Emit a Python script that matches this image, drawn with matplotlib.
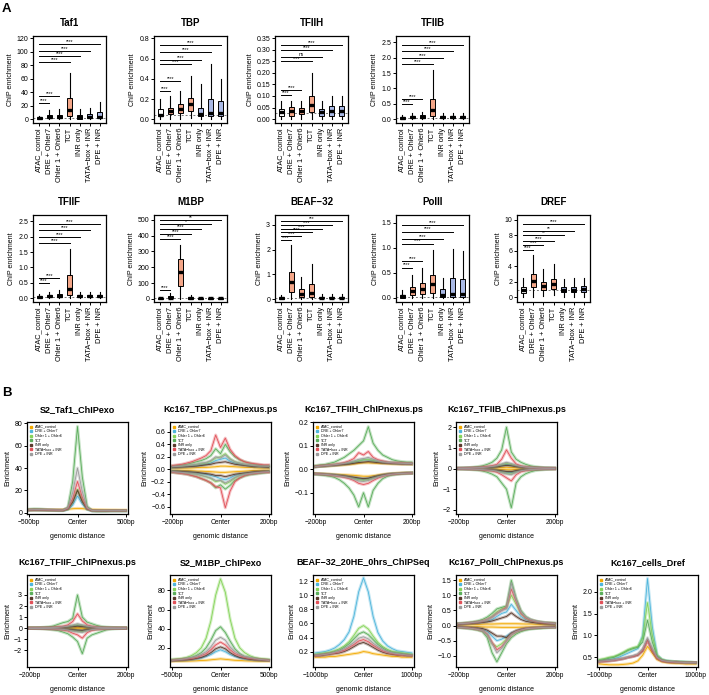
import numpy as np
import matplotlib
matplotlib.use("Agg")
import matplotlib.pyplot as plt
from matplotlib.lines import Line2D

plt.rcParams['font.family'] = ['Liberation Sans', 'DejaVu Sans']

FIG_W, FIG_H = 709, 695

CATS = ['ATAC_control', 'DRE + Ohler7', 'Ohler 1 + Ohler6', 'TCT',
        'INR only', 'TATA\u2212box + INR', 'DPE + INR']
BOX_COLORS = ['#ffffff', '#f4a688', '#f4a688', '#f4a688',
              '#a9b9e6', '#a9b9e6', '#a9b9e6']
LINE_COLORS = ['#f2a900', '#4fb6dc', '#86d45a', '#5cae5c',
               '#5a3a2c', '#e2525a', '#9c9c9c']

# ---- panel A: box stats (whisker low, q1, median, q3, whisker high) ----
A_TITLES = ['Taf1', 'TBP', 'TFIIH', 'TFIIB', 'TFIIF', 'M1BP', 'BEAF\u221232', 'PolII', 'DREF']
taf1_box = [(0, 0.5, 1.5, 3, 5), (0, 2, 4, 7, 14), (0, 2, 4, 7, 15), (0, 5, 14, 31, 68),
            (0, 1, 3, 7, 15), (0, 1.5, 4, 8, 17), (0, 2, 4, 11, 26)]
tbp_box = [(0, 0.03, 0.04, 0.1, 0.2), (0, 0.05, 0.08, 0.11, 0.23), (0, 0.06, 0.1, 0.15, 0.28),
           (0.01, 0.08, 0.15, 0.21, 0.43), (0, 0.03, 0.05, 0.11, 0.35),
           (0, 0.03, 0.06, 0.2, 0.55), (0, 0.03, 0.06, 0.18, 0.4)]
tfiih_box = [(0, 0.014, 0.029, 0.044, 0.08), (0, 0.015, 0.033, 0.051, 0.08),
             (0, 0.02, 0.037, 0.05, 0.08), (0, 0.03, 0.06, 0.1, 0.2),
             (0, 0.015, 0.03, 0.044, 0.08), (0, 0.015, 0.035, 0.058, 0.1),
             (0, 0.015, 0.033, 0.055, 0.1)]
tfiib_box = [(0, 0.02, 0.04, 0.07, 0.15), (0, 0.04, 0.07, 0.11, 0.22), (0, 0.05, 0.08, 0.13, 0.25),
             (0, 0.12, 0.3, 0.65, 1.6), (0, 0.03, 0.06, 0.1, 0.2), (0, 0.03, 0.06, 0.11, 0.22),
             (0, 0.03, 0.06, 0.11, 0.22)]
tfiif_box = [(0, 0.02, 0.04, 0.07, 0.15), (0, 0.04, 0.07, 0.11, 0.22), (0, 0.05, 0.09, 0.14, 0.27),
             (0, 0.12, 0.3, 0.75, 1.6), (0, 0.03, 0.06, 0.1, 0.2), (0, 0.03, 0.06, 0.11, 0.22),
             (0, 0.03, 0.06, 0.11, 0.22)]
m1bp_box = [(0, 1, 3, 6, 12), (0, 3, 8, 16, 35), (0, 80, 170, 255, 340),
            (0, 2, 5, 12, 25), (0, 1, 3, 6, 12), (0, 1, 3, 6, 12), (0, 1, 3, 6, 12)]
beaf_box = [(0, 0.02, 0.04, 0.07, 0.15), (0, 0.3, 0.7, 1.1, 2.2), (0, 0.08, 0.2, 0.4, 0.9),
            (0, 0.1, 0.25, 0.6, 1.4), (0, 0.03, 0.06, 0.1, 0.2), (0, 0.03, 0.06, 0.1, 0.2),
            (0, 0.03, 0.06, 0.1, 0.2)]
polii_box = [(0, 0.0, 0.03, 0.06, 0.15), (0, 0.05, 0.13, 0.22, 0.46), (0, 0.07, 0.17, 0.29, 0.6),
             (0, 0.1, 0.28, 0.46, 0.95), (0, 0.02, 0.05, 0.18, 0.4), (0, 0.02, 0.08, 0.4, 0.97),
             (0, 0.02, 0.08, 0.38, 0.93)]
dref_box = [(0.1, 0.6, 1.0, 1.3, 2.5), (0.1, 1.3, 2.1, 3.0, 5.5), (0.2, 1.0, 1.4, 2.0, 3.7),
            (0.3, 1.1, 1.7, 2.4, 4.3), (0.1, 0.75, 1.0, 1.3, 2.3), (0.1, 0.7, 1.0, 1.3, 2.5),
            (0.1, 0.7, 1.1, 1.4, 2.5)]
A_BOXES = [taf1_box, tbp_box, tfiih_box, tfiib_box, tfiif_box, m1bp_box, beaf_box, polii_box, dref_box]
A_REF = [1.5, 0.04, 0.028, 0.04, 0.04, 3, 0.04, 0.02, 1.0]

# significance bars: height for the comparison ATAC_control vs group 2..7
A_SIG_Y = [[24, 34, 85, 93, 101, 111],
           [0.28, 0.38, 0.55, 0.59, 0.66, 0.73],
           [0.105, 0.125, 0.25, 0.27, 0.30, 0.32],
           [0.5, 0.65, 1.8, 2.0, 2.2, 2.4],
           [0.5, 0.65, 1.8, 2.0, 2.2, 2.4],
           [55, 380, 410, 440, 470, 500],
           [2.4, 2.55, 2.7, 2.85, 3.0, 3.15],
           [0.6, 0.73, 1.08, 1.17, 1.32, 1.45],
           [6.1, 6.7, 7.3, 8.0, 8.6, 9.4]]
A_SIG_LAB = [['****'] * 6,
             ['****'] * 6,
             ['****', '****', '****', 'ns', '****', '****'],
             ['****'] * 6,
             ['****'] * 6,
             ['****', '****', '****', '****', '*', '**'],
             ['****', '****', '****', '****', '****', '***'],
             ['****'] * 6,
             ['****', '****', '****', '**', '**', '****']]
A_YLIM = [(-5.5, 123), (-0.037, 0.823), (-0.017, 0.36), (-0.12, 2.7), (-0.12, 2.7),
          (-20, 530), (-0.12, 3.4), (-0.09, 1.65), (-0.6, 10.6)]
A_YTICKS = [np.arange(0, 121, 20), np.arange(0, 0.81, 0.2), np.arange(0, 0.351, 0.05),
            np.arange(0, 2.51, 0.5), np.arange(0, 2.51, 0.5), np.arange(0, 501, 100),
            [0, 1, 2, 3], np.arange(0, 1.51, 0.5), np.arange(0, 10.1, 2)]
A_YFMT = ['%d', '%.1f', '%.2f', '%.1f', '%.1f', '%d', '%d', '%.1f', '%d']

# ---- panel B: average profiles, one list per motif class ----
B_TITLES = ['S2_Taf1_ChIPexo', 'Kc167_TBP_ChIPnexus.ps', 'Kc167_TFIIH_ChIPnexus.ps',
            'Kc167_TFIIB_ChIPnexus.ps', 'Kc167_TFIIF_ChIPnexus.ps', 'S2_M1BP_ChIPexo',
            'BEAF\u221232_20HE_0hrs_ChIPSeq', 'Kc167_PolII_ChIPnexus.ps', 'Kc167_cells_Dref']
B_HALF = [500, 200, 200, 200, 200, 500, 1000, 200, 1000]

taf1_prof = [
    [2.6, 2.6, 2.6, 2.7, 2.7, 2.8, 2.9, 3.0, 3.3, 3.7, 4.0, 3.8, 3.4, 3.1, 2.9, 2.8, 2.7, 2.6, 2.6, 2.5, 2.5],
    [2.4, 2.5, 2.4, 2.3, 2.2, 2.1, 2.0, 2.0, 3.0, 7.0, 15.0, 8.0, 3.0, 1.8, 1.7, 1.7, 1.7, 1.8, 1.8, 1.8, 1.8],
    [2.6, 2.8, 2.7, 2.5, 2.3, 2.2, 2.1, 2.1, 3.5, 10.0, 21.0, 11.0, 3.5, 1.9, 1.8, 1.8, 1.8, 1.9, 1.9, 1.9, 1.9],
    [3.3, 3.6, 3.5, 3.2, 2.9, 2.7, 2.5, 2.4, 5.0, 28.0, 77.0, 32.0, 6.0, 2.0, 1.8, 1.8, 1.8, 1.9, 1.9, 1.9, 1.9],
    [2.5, 2.6, 2.6, 2.5, 2.4, 2.3, 2.2, 2.2, 3.5, 9.5, 20.0, 10.0, 3.5, 2.0, 1.9, 1.9, 1.9, 2.0, 2.0, 2.0, 2.0],
    [2.7, 2.8, 2.8, 2.7, 2.6, 2.5, 2.4, 2.4, 4.0, 13.0, 28.0, 14.0, 4.0, 2.1, 2.0, 2.0, 2.0, 2.0, 2.0, 2.0, 2.0],
    [2.8, 2.9, 2.9, 2.8, 2.7, 2.6, 2.5, 2.5, 4.5, 18.0, 40.0, 19.0, 4.5, 2.2, 2.1, 2.1, 2.1, 2.1, 2.1, 2.1, 2.1]]

tbp_pos = [
    [0.02, 0.02, 0.02, 0.02, 0.02, 0.025, 0.03, 0.03, 0.035, 0.04, 0.05, 0.05, 0.045, 0.04, 0.035, 0.03, 0.03, 0.025, 0.02, 0.02, 0.02],
    [0.03, 0.035, 0.04, 0.045, 0.05, 0.06, 0.07, 0.08, 0.1, 0.14, 0.16, 0.18, 0.13, 0.1, 0.08, 0.07, 0.06, 0.05, 0.05, 0.04, 0.04],
    [0.04, 0.045, 0.05, 0.06, 0.07, 0.08, 0.09, 0.1, 0.13, 0.18, 0.2, 0.25, 0.17, 0.12, 0.1, 0.08, 0.07, 0.06, 0.05, 0.05, 0.05],
    [0.05, 0.06, 0.07, 0.08, 0.1, 0.12, 0.14, 0.17, 0.22, 0.33, 0.25, 0.4, 0.28, 0.2, 0.15, 0.12, 0.1, 0.08, 0.07, 0.06, 0.06],
    [0.03, 0.03, 0.035, 0.04, 0.045, 0.05, 0.06, 0.07, 0.08, 0.1, 0.11, 0.12, 0.1, 0.08, 0.07, 0.06, 0.05, 0.04, 0.04, 0.035, 0.03],
    [0.06, 0.07, 0.08, 0.1, 0.12, 0.15, 0.18, 0.22, 0.3, 0.55, 0.35, 0.5, 0.32, 0.22, 0.16, 0.12, 0.1, 0.09, 0.08, 0.07, 0.07],
    [0.04, 0.045, 0.05, 0.06, 0.07, 0.08, 0.1, 0.11, 0.14, 0.2, 0.18, 0.23, 0.16, 0.12, 0.1, 0.08, 0.07, 0.06, 0.05, 0.05, 0.05]]
tbp_neg = [
    [-0.02, -0.02, -0.02, -0.02, -0.025, -0.03, -0.03, -0.035, -0.04, -0.045, -0.05, -0.05, -0.045, -0.04, -0.035, -0.03, -0.025, -0.02, -0.02, -0.02, -0.02],
    [-0.03, -0.035, -0.04, -0.045, -0.05, -0.06, -0.07, -0.08, -0.1, -0.12, -0.15, -0.17, -0.14, -0.1, -0.08, -0.07, -0.06, -0.05, -0.045, -0.04, -0.035],
    [-0.04, -0.045, -0.05, -0.06, -0.07, -0.08, -0.1, -0.12, -0.15, -0.2, -0.18, -0.24, -0.2, -0.14, -0.1, -0.08, -0.07, -0.06, -0.05, -0.045, -0.04],
    [-0.05, -0.06, -0.07, -0.08, -0.1, -0.12, -0.15, -0.18, -0.22, -0.3, -0.25, -0.32, -0.26, -0.18, -0.14, -0.11, -0.09, -0.08, -0.07, -0.06, -0.05],
    [-0.03, -0.03, -0.035, -0.04, -0.045, -0.05, -0.06, -0.07, -0.08, -0.1, -0.1, -0.12, -0.1, -0.08, -0.07, -0.06, -0.05, -0.04, -0.035, -0.03, -0.03],
    [-0.05, -0.06, -0.07, -0.08, -0.1, -0.12, -0.15, -0.18, -0.22, -0.28, -0.3, -0.62, -0.35, -0.2, -0.14, -0.1, -0.08, -0.07, -0.06, -0.05, -0.05],
    [-0.04, -0.045, -0.05, -0.06, -0.07, -0.08, -0.1, -0.12, -0.14, -0.18, -0.18, -0.22, -0.18, -0.13, -0.1, -0.08, -0.07, -0.06, -0.05, -0.045, -0.04]]

tfiih_pos = [
    [0.01, 0.012, 0.013, 0.014, 0.015, 0.017, 0.018, 0.02, 0.022, 0.025, 0.027, 0.027, 0.026, 0.025, 0.024, 0.023, 0.022, 0.022, 0.021, 0.021, 0.02],
    [0.01, 0.012, 0.014, 0.015, 0.017, 0.02, 0.022, 0.025, 0.03, 0.035, 0.04, 0.04, 0.037, 0.033, 0.03, 0.028, 0.026, 0.025, 0.024, 0.023, 0.023],
    [0.012, 0.013, 0.015, 0.017, 0.02, 0.022, 0.025, 0.028, 0.032, 0.036, 0.04, 0.042, 0.038, 0.034, 0.031, 0.029, 0.027, 0.026, 0.025, 0.024, 0.024],
    [0.015, 0.018, 0.02, 0.025, 0.03, 0.04, 0.05, 0.065, 0.08, 0.1, 0.12, 0.18, 0.11, 0.08, 0.06, 0.05, 0.04, 0.035, 0.032, 0.03, 0.03],
    [0.01, 0.012, 0.013, 0.015, 0.016, 0.018, 0.02, 0.022, 0.025, 0.028, 0.03, 0.032, 0.03, 0.028, 0.026, 0.025, 0.024, 0.023, 0.022, 0.022, 0.022],
    [0.012, 0.014, 0.016, 0.018, 0.02, 0.024, 0.028, 0.035, 0.045, 0.07, 0.06, 0.075, 0.05, 0.04, 0.035, 0.03, 0.028, 0.027, 0.026, 0.025, 0.025],
    [0.011, 0.013, 0.015, 0.017, 0.019, 0.022, 0.025, 0.029, 0.034, 0.042, 0.045, 0.05, 0.042, 0.035, 0.031, 0.029, 0.027, 0.026, 0.025, 0.024, 0.024]]
tfiih_neg = [
    [-0.018, -0.019, -0.02, -0.021, -0.022, -0.023, -0.024, -0.025, -0.026, -0.028, -0.03, -0.03, -0.028, -0.025, -0.022, -0.02, -0.018, -0.017, -0.016, -0.015, -0.015],
    [-0.02, -0.021, -0.022, -0.023, -0.025, -0.027, -0.03, -0.033, -0.036, -0.04, -0.042, -0.04, -0.035, -0.03, -0.026, -0.022, -0.02, -0.019, -0.018, -0.017, -0.016],
    [-0.02, -0.021, -0.022, -0.024, -0.026, -0.028, -0.031, -0.035, -0.04, -0.045, -0.047, -0.045, -0.038, -0.032, -0.027, -0.023, -0.021, -0.019, -0.018, -0.017, -0.016],
    [-0.022, -0.024, -0.027, -0.03, -0.035, -0.045, -0.06, -0.08, -0.11, -0.16, -0.1, -0.16, -0.09, -0.06, -0.04, -0.03, -0.025, -0.022, -0.02, -0.019, -0.018],
    [-0.019, -0.02, -0.021, -0.022, -0.024, -0.026, -0.028, -0.031, -0.034, -0.037, -0.04, -0.038, -0.033, -0.028, -0.024, -0.021, -0.019, -0.018, -0.017, -0.016, -0.016],
    [-0.02, -0.021, -0.023, -0.025, -0.028, -0.031, -0.035, -0.04, -0.048, -0.06, -0.065, -0.06, -0.048, -0.038, -0.03, -0.025, -0.022, -0.02, -0.019, -0.018, -0.017],
    [-0.02, -0.021, -0.022, -0.024, -0.026, -0.029, -0.032, -0.036, -0.042, -0.05, -0.052, -0.048, -0.04, -0.033, -0.028, -0.024, -0.021, -0.019, -0.018, -0.017, -0.016]]

tfiib_pos = [
    [0.0, 0.0, 0.0, 0.01, 0.01, 0.02, 0.02, 0.03, 0.04, 0.05, 0.06, 0.05, 0.04, 0.03, 0.02, 0.02, 0.01, 0.01, 0.0, 0.0, 0.0],
    [0.01, 0.01, 0.02, 0.02, 0.03, 0.04, 0.05, 0.07, 0.1, 0.15, 0.2, 0.17, 0.12, 0.08, 0.05, 0.04, 0.03, 0.02, 0.02, 0.01, 0.01],
    [0.01, 0.02, 0.02, 0.03, 0.04, 0.05, 0.07, 0.09, 0.13, 0.2, 0.25, 0.2, 0.14, 0.09, 0.06, 0.05, 0.04, 0.03, 0.02, 0.02, 0.01],
    [0.02, 0.03, 0.04, 0.06, 0.09, 0.13, 0.2, 0.3, 0.5, 0.9, 2.0, 0.8, 0.45, 0.3, 0.2, 0.13, 0.09, 0.06, 0.04, 0.03, 0.02],
    [0.01, 0.01, 0.02, 0.02, 0.03, 0.04, 0.05, 0.06, 0.08, 0.12, 0.15, 0.13, 0.09, 0.06, 0.04, 0.03, 0.02, 0.02, 0.01, 0.01, 0.01],
    [0.02, 0.02, 0.03, 0.04, 0.05, 0.07, 0.1, 0.14, 0.2, 0.45, 0.9, 0.5, 0.22, 0.13, 0.08, 0.06, 0.04, 0.03, 0.02, 0.02, 0.02],
    [0.01, 0.02, 0.02, 0.03, 0.04, 0.05, 0.07, 0.1, 0.14, 0.22, 0.3, 0.24, 0.15, 0.1, 0.07, 0.05, 0.04, 0.03, 0.02, 0.02, 0.01]]
tfiib_neg = [
    [0.0, 0.0, 0.0, -0.01, -0.01, -0.02, -0.02, -0.03, -0.04, -0.05, -0.06, -0.06, -0.05, -0.04, -0.03, -0.02, -0.01, -0.01, 0.0, 0.0, 0.0],
    [-0.01, -0.01, -0.02, -0.02, -0.03, -0.04, -0.05, -0.07, -0.1, -0.14, -0.18, -0.2, -0.14, -0.09, -0.06, -0.04, -0.03, -0.02, -0.02, -0.01, -0.01],
    [-0.01, -0.02, -0.02, -0.03, -0.04, -0.05, -0.07, -0.09, -0.12, -0.18, -0.24, -0.26, -0.17, -0.1, -0.07, -0.05, -0.04, -0.03, -0.02, -0.02, -0.01],
    [-0.02, -0.03, -0.04, -0.06, -0.08, -0.12, -0.18, -0.27, -0.4, -0.7, -1.0, -1.9, -0.7, -0.4, -0.25, -0.16, -0.1, -0.07, -0.05, -0.03, -0.02],
    [-0.01, -0.01, -0.02, -0.02, -0.03, -0.04, -0.05, -0.06, -0.08, -0.11, -0.14, -0.15, -0.1, -0.07, -0.05, -0.03, -0.02, -0.02, -0.01, -0.01, -0.01],
    [-0.02, -0.02, -0.03, -0.04, -0.05, -0.07, -0.09, -0.12, -0.18, -0.3, -0.45, -0.6, -0.3, -0.16, -0.1, -0.06, -0.04, -0.03, -0.02, -0.02, -0.02],
    [-0.01, -0.02, -0.02, -0.03, -0.04, -0.05, -0.07, -0.09, -0.13, -0.2, -0.26, -0.3, -0.18, -0.11, -0.07, -0.05, -0.04, -0.03, -0.02, -0.02, -0.01]]

tfiif_pos = [
    [0.0, 0.0, 0.01, 0.01, 0.01, 0.02, 0.02, 0.03, 0.04, 0.05, 0.06, 0.05, 0.04, 0.03, 0.02, 0.02, 0.01, 0.01, 0.01, 0.0, 0.0],
    [0.01, 0.01, 0.02, 0.02, 0.03, 0.04, 0.06, 0.08, 0.12, 0.18, 0.25, 0.2, 0.13, 0.08, 0.05, 0.04, 0.03, 0.02, 0.02, 0.01, 0.01],
    [0.01, 0.02, 0.02, 0.03, 0.04, 0.06, 0.08, 0.11, 0.16, 0.24, 0.3, 0.25, 0.16, 0.1, 0.07, 0.05, 0.04, 0.03, 0.02, 0.02, 0.01],
    [0.02, 0.03, 0.05, 0.08, 0.12, 0.2, 0.35, 0.5, 0.6, 0.9, 3.0, 1.0, 0.55, 0.4, 0.25, 0.15, 0.1, 0.07, 0.05, 0.03, 0.02],
    [0.01, 0.01, 0.02, 0.02, 0.03, 0.04, 0.05, 0.07, 0.1, 0.14, 0.18, 0.15, 0.1, 0.07, 0.05, 0.03, 0.02, 0.02, 0.01, 0.01, 0.01],
    [0.02, 0.02, 0.03, 0.04, 0.06, 0.08, 0.12, 0.18, 0.3, 0.6, 1.3, 0.65, 0.3, 0.17, 0.1, 0.07, 0.05, 0.03, 0.02, 0.02, 0.02],
    [0.01, 0.02, 0.02, 0.03, 0.04, 0.06, 0.08, 0.12, 0.18, 0.28, 0.4, 0.3, 0.18, 0.12, 0.08, 0.05, 0.04, 0.03, 0.02, 0.02, 0.01]]
tfiif_neg = [
    [0.0, 0.0, -0.01, -0.01, -0.01, -0.02, -0.02, -0.03, -0.04, -0.05, -0.06, -0.06, -0.05, -0.04, -0.03, -0.02, -0.01, -0.01, -0.01, 0.0, 0.0],
    [-0.01, -0.01, -0.02, -0.02, -0.03, -0.04, -0.06, -0.08, -0.11, -0.16, -0.22, -0.25, -0.16, -0.1, -0.06, -0.04, -0.03, -0.02, -0.02, -0.01, -0.01],
    [-0.01, -0.02, -0.02, -0.03, -0.04, -0.06, -0.08, -0.1, -0.14, -0.2, -0.28, -0.32, -0.2, -0.12, -0.08, -0.05, -0.04, -0.03, -0.02, -0.02, -0.01],
    [-0.02, -0.03, -0.04, -0.06, -0.1, -0.15, -0.22, -0.35, -0.5, -0.8, -1.2, -2.3, -0.9, -0.6, -0.45, -0.3, -0.15, -0.08, -0.05, -0.03, -0.02],
    [-0.01, -0.01, -0.02, -0.02, -0.03, -0.04, -0.05, -0.07, -0.09, -0.13, -0.17, -0.19, -0.12, -0.08, -0.05, -0.03, -0.02, -0.02, -0.01, -0.01, -0.01],
    [-0.02, -0.02, -0.03, -0.04, -0.06, -0.08, -0.11, -0.16, -0.25, -0.45, -0.6, -0.9, -0.4, -0.2, -0.12, -0.07, -0.05, -0.03, -0.02, -0.02, -0.02],
    [-0.01, -0.02, -0.02, -0.03, -0.04, -0.06, -0.08, -0.11, -0.16, -0.25, -0.33, -0.38, -0.22, -0.13, -0.08, -0.05, -0.04, -0.03, -0.02, -0.02, -0.01]]

m1bp_prof = [
    [6, 6, 6, 6.2, 6.3, 6.5, 6.8, 7, 7.5, 8, 8.5, 8, 7.5, 7, 6.8, 6.5, 6.3, 6.2, 6, 6, 6],
    [7, 7, 7.2, 7.5, 8, 8.5, 9.5, 11, 13, 16, 18, 16, 13, 11, 9.5, 8.5, 8, 7.5, 7.2, 7, 7],
    [8, 8.5, 9, 10, 12, 15, 20, 30, 48, 75, 92, 78, 50, 30, 20, 15, 12, 10, 9, 8.5, 8],
    [7, 7.5, 8, 9, 10, 12, 15, 20, 28, 38, 42, 36, 27, 19, 14, 11, 10, 9, 8, 7.5, 7],
    [6.5, 7, 7.2, 7.5, 8, 9, 10, 12, 15, 19, 21, 19, 15, 12, 10, 9, 8, 7.5, 7.2, 7, 6.8],
    [7, 7.5, 8, 8.5, 9, 10, 12, 14, 18, 23, 26, 23, 18, 14, 12, 10, 9, 8.5, 8, 7.5, 7],
    [7, 7.5, 8, 9, 10, 11, 13, 16, 21, 28, 31, 28, 21, 16, 13, 11, 10, 9, 8, 7.5, 7]]

beaf_prof = [
    [0.12, 0.12, 0.12, 0.13, 0.13, 0.14, 0.15, 0.16, 0.17, 0.18, 0.2, 0.19, 0.17, 0.16, 0.15, 0.14, 0.13, 0.13, 0.12, 0.12, 0.12],
    [0.18, 0.19, 0.2, 0.22, 0.25, 0.3, 0.37, 0.48, 0.7, 1.05, 1.25, 1.05, 0.7, 0.47, 0.35, 0.28, 0.24, 0.21, 0.2, 0.19, 0.18],
    [0.16, 0.17, 0.18, 0.19, 0.21, 0.24, 0.28, 0.34, 0.43, 0.53, 0.57, 0.52, 0.42, 0.33, 0.27, 0.23, 0.2, 0.19, 0.18, 0.17, 0.16],
    [0.15, 0.16, 0.17, 0.18, 0.2, 0.22, 0.26, 0.31, 0.38, 0.45, 0.48, 0.44, 0.37, 0.3, 0.25, 0.21, 0.19, 0.18, 0.17, 0.16, 0.15],
    [0.14, 0.14, 0.15, 0.16, 0.17, 0.18, 0.2, 0.23, 0.27, 0.31, 0.33, 0.3, 0.26, 0.22, 0.19, 0.17, 0.16, 0.15, 0.15, 0.14, 0.14],
    [0.14, 0.15, 0.16, 0.17, 0.18, 0.2, 0.22, 0.26, 0.3, 0.35, 0.37, 0.34, 0.29, 0.25, 0.21, 0.19, 0.17, 0.16, 0.15, 0.15, 0.14],
    [0.15, 0.15, 0.16, 0.17, 0.19, 0.21, 0.24, 0.28, 0.33, 0.39, 0.41, 0.38, 0.32, 0.27, 0.23, 0.2, 0.18, 0.17, 0.16, 0.15, 0.15]]

polii_pos = [
    [0.03, 0.03, 0.035, 0.04, 0.04, 0.045, 0.05, 0.05, 0.055, 0.06, 0.06, 0.06, 0.06, 0.055, 0.05, 0.05, 0.045, 0.04, 0.04, 0.035, 0.03],
    [0.05, 0.06, 0.07, 0.08, 0.1, 0.12, 0.15, 0.2, 0.3, 0.4, 0.45, 0.7, 0.5, 0.3, 0.2, 0.15, 0.12, 0.1, 0.08, 0.07, 0.06],
    [0.06, 0.07, 0.08, 0.1, 0.12, 0.15, 0.2, 0.3, 0.45, 0.55, 0.6, 1.0, 0.7, 0.4, 0.25, 0.18, 0.14, 0.11, 0.09, 0.08, 0.07],
    [0.07, 0.08, 0.1, 0.12, 0.15, 0.2, 0.28, 0.4, 0.55, 0.6, 0.65, 1.5, 0.9, 0.5, 0.3, 0.2, 0.15, 0.12, 0.1, 0.09, 0.08],
    [0.04, 0.05, 0.06, 0.07, 0.08, 0.1, 0.12, 0.15, 0.2, 0.25, 0.3, 0.42, 0.3, 0.2, 0.14, 0.11, 0.09, 0.07, 0.06, 0.05, 0.05],
    [0.06, 0.07, 0.08, 0.1, 0.12, 0.15, 0.2, 0.28, 0.4, 0.5, 0.6, 1.2, 0.8, 0.4, 0.25, 0.18, 0.14, 0.11, 0.09, 0.08, 0.07],
    [0.06, 0.07, 0.08, 0.1, 0.12, 0.15, 0.2, 0.28, 0.4, 0.5, 0.55, 1.4, 0.85, 0.45, 0.28, 0.2, 0.15, 0.12, 0.1, 0.08, 0.07]]
polii_neg = [
    [-0.03, -0.03, -0.035, -0.04, -0.04, -0.045, -0.05, -0.05, -0.055, -0.06, -0.06, -0.06, -0.06, -0.055, -0.05, -0.05, -0.045, -0.04, -0.04, -0.035, -0.03],
    [-0.05, -0.06, -0.07, -0.08, -0.1, -0.13, -0.2, -0.35, -0.5, -0.45, -0.35, -0.25, -0.18, -0.14, -0.11, -0.09, -0.08, -0.07, -0.06, -0.05, -0.05],
    [-0.06, -0.07, -0.08, -0.1, -0.13, -0.17, -0.3, -0.6, -0.7, -0.6, -0.45, -0.3, -0.22, -0.16, -0.12, -0.1, -0.09, -0.08, -0.07, -0.06, -0.06],
    [-0.07, -0.08, -0.1, -0.12, -0.15, -0.2, -0.4, -0.9, -1.2, -0.9, -0.6, -0.4, -0.28, -0.2, -0.15, -0.12, -0.1, -0.09, -0.08, -0.07, -0.07],
    [-0.04, -0.05, -0.06, -0.07, -0.08, -0.1, -0.15, -0.25, -0.35, -0.35, -0.4, -0.25, -0.17, -0.12, -0.09, -0.08, -0.07, -0.06, -0.05, -0.05, -0.04],
    [-0.06, -0.07, -0.08, -0.1, -0.13, -0.17, -0.28, -0.55, -0.8, -0.7, -0.5, -0.3, -0.2, -0.15, -0.11, -0.09, -0.08, -0.07, -0.06, -0.06, -0.06],
    [-0.06, -0.07, -0.08, -0.1, -0.13, -0.17, -0.3, -0.6, -0.9, -0.75, -0.5, -0.3, -0.2, -0.15, -0.11, -0.09, -0.08, -0.07, -0.06, -0.06, -0.06]]

dref_prof = [
    [0.35, 0.34, 0.33, 0.33, 0.33, 0.34, 0.35, 0.37, 0.42, 0.55, 0.75, 0.6, 0.45, 0.4, 0.38, 0.37, 0.36, 0.36, 0.35, 0.35, 0.35],
    [0.42, 0.44, 0.45, 0.47, 0.5, 0.55, 0.6, 0.65, 0.7, 1.0, 2.3, 1.2, 0.55, 0.45, 0.42, 0.41, 0.4, 0.4, 0.39, 0.39, 0.38],
    [0.45, 0.47, 0.5, 0.52, 0.56, 0.62, 0.68, 0.72, 0.75, 0.95, 1.75, 1.0, 0.55, 0.45, 0.42, 0.41, 0.4, 0.4, 0.39, 0.39, 0.38],
    [0.43, 0.45, 0.48, 0.5, 0.55, 0.6, 0.66, 0.7, 0.73, 0.85, 1.35, 0.85, 0.52, 0.44, 0.41, 0.4, 0.4, 0.39, 0.39, 0.38, 0.38],
    [0.4, 0.41, 0.42, 0.43, 0.45, 0.47, 0.5, 0.52, 0.55, 0.65, 0.9, 0.65, 0.48, 0.42, 0.4, 0.39, 0.39, 0.38, 0.38, 0.38, 0.38],
    [0.4, 0.41, 0.42, 0.43, 0.45, 0.47, 0.5, 0.52, 0.56, 0.66, 0.88, 0.66, 0.48, 0.42, 0.4, 0.39, 0.39, 0.38, 0.38, 0.38, 0.38],
    [0.41, 0.42, 0.43, 0.44, 0.46, 0.48, 0.51, 0.54, 0.58, 0.7, 0.95, 0.7, 0.5, 0.43, 0.41, 0.4, 0.39, 0.39, 0.38, 0.38, 0.38]]

B_POS = [taf1_prof, tbp_pos, tfiih_pos, tfiib_pos, tfiif_pos, m1bp_prof, beaf_prof, polii_pos, dref_prof]
B_NEG = [None, tbp_neg, tfiih_neg, tfiib_neg, tfiif_neg, None, None, polii_neg, None]
B_YLIM = [(-1, 81), (-0.72, 0.76), (-0.19, 0.2), (-2.2, 2.25), (-3.5, 4.8),
          (0, 96), (-0.02, 1.29), (-1.37, 1.67), (0.28, 2.38)]
B_YTICKS = [[0, 20, 40, 60, 80], [-0.6, -0.4, -0.2, 0.0, 0.2, 0.4, 0.6], [-0.1, 0.0, 0.1, 0.2],
            [-2, -1, 0, 1, 2], [-2, -1, 0, 1, 2, 3], [20, 40, 60, 80],
            [0.2, 0.4, 0.6, 0.8, 1.0, 1.2], [-1.0, -0.5, 0.0, 0.5, 1.0, 1.5], [0.5, 1.0, 1.5, 2.0]]
B_YFMT = ['%d', '%.1f', '%.1f', '%d', '%d', '%d', '%.1f', '%.1f', '%.1f']


def px_axes(fig, left, top, w, h):
    return fig.add_axes([left / FIG_W, 1 - (top + h) / FIG_H, w / FIG_W, h / FIG_H])


def style_box(ax):
    for s in ax.spines.values():
        s.set_linewidth(0.9)
    ax.tick_params(length=2, width=0.7, labelsize=5, pad=1.5)


fig = plt.figure(figsize=(FIG_W / 100, FIG_H / 100), dpi=100)

# ---------------- panel A ----------------
a_left = [33, 154, 275, 396, 517]
a_top = [36, 215]
for i in range(9):
    row = 0 if i < 4 else 1
    col = i if i < 4 else i - 4
    ax = px_axes(fig, a_left[col], a_top[row], 73, 87)
    stats = [dict(whislo=b[0], q1=b[1], med=b[2], q3=b[3], whishi=b[4], fliers=[])
             for b in A_BOXES[i]]
    bp = ax.bxp(stats, positions=range(1, 8), widths=0.5, patch_artist=True,
                showfliers=False, showcaps=False,
                medianprops=dict(color='black', lw=2.4, solid_capstyle='butt'),
                whiskerprops=dict(color='black', lw=0.8),
                boxprops=dict(edgecolor='black', lw=0.7))
    for patch, c in zip(bp['boxes'], BOX_COLORS):
        patch.set_facecolor(c)
    ax.axhline(A_REF[i], color='#777777', lw=0.7, ls=(0, (2, 2)), zorder=0)
    for k, (yy, lab) in enumerate(zip(A_SIG_Y[i], A_SIG_LAB[i])):
        ax.plot([1, k + 2], [yy, yy], color='black', lw=0.7)
        ax.text((k + 3) / 2, yy, lab, ha='center', va='bottom', fontsize=3.5)
    ax.set_xlim(0.4, 7.6)
    ax.set_ylim(*A_YLIM[i])
    ax.set_yticks(A_YTICKS[i])
    ax.set_yticklabels([A_YFMT[i] % v for v in A_YTICKS[i]])
    ax.set_xticks(range(1, 8))
    ax.set_xticklabels(CATS, rotation=90)
    ax.set_ylabel('ChIP enrichment', fontsize=5, labelpad=2)
    ax.set_title(A_TITLES[i], fontsize=7, fontweight='bold', pad=7)
    style_box(ax)
    ax.tick_params(axis='x', labelsize=5.3)

# ---------------- panel B ----------------
b_left = [27, 170, 313, 456, 597]
b_top = [422, 575]
legend_handles = [Line2D([], [], marker='s', ls='none', markersize=1.6,
                         markerfacecolor=c, markeredgecolor=c) for c in LINE_COLORS]
for i in range(9):
    row = 0 if i < 4 else 1
    col = i if i < 4 else i - 4
    ax = px_axes(fig, b_left[col], b_top[row], 101, 92)
    half = B_HALF[i]
    x = np.linspace(-half, half, 21)
    for k in range(7):
        c = LINE_COLORS[k]
        ax.plot(x, B_POS[i][k], color=c, lw=2.2, alpha=0.35, solid_joinstyle='round')
        ax.plot(x, B_POS[i][k], color=c, lw=0.6)
        if B_NEG[i] is not None:
            ax.plot(x, B_NEG[i][k], color=c, lw=2.2, alpha=0.35, solid_joinstyle='round')
            ax.plot(x, B_NEG[i][k], color=c, lw=0.6)
    ax.set_xlim(-half * 1.05, half * 1.05)
    ax.set_ylim(*B_YLIM[i])
    ax.set_yticks(B_YTICKS[i])
    ax.set_yticklabels([(B_YFMT[i] % v).replace('-', '\u2212') for v in B_YTICKS[i]])
    ax.set_xticks([-half, 0, half])
    ax.set_xticklabels(['\u2212%dbp' % half, 'Center', '%dbp' % half])
    ax.set_xlabel('genomic distance', fontsize=5, labelpad=5)
    ax.set_ylabel('Enrichment', fontsize=5, labelpad=2)
    ax.set_title(B_TITLES[i], fontsize=6.5, fontweight='bold', pad=7)
    style_box(ax)
    ax.tick_params(axis='x', labelsize=4.8)
    ax.legend(legend_handles, CATS, loc='upper left', fontsize=2.6, frameon=False,
              handlelength=0.8, labelspacing=0.15, borderaxespad=0.4,
              handletextpad=0.5)

fig.text(2 / FIG_W, 1 - 3 / FIG_H, 'A', fontsize=9.5, fontweight='bold', va='top')
fig.text(2 / FIG_W, 1 - 387 / FIG_H, 'B', fontsize=9.5, fontweight='bold', va='top')

fig.savefig('out.png', dpi=100)
